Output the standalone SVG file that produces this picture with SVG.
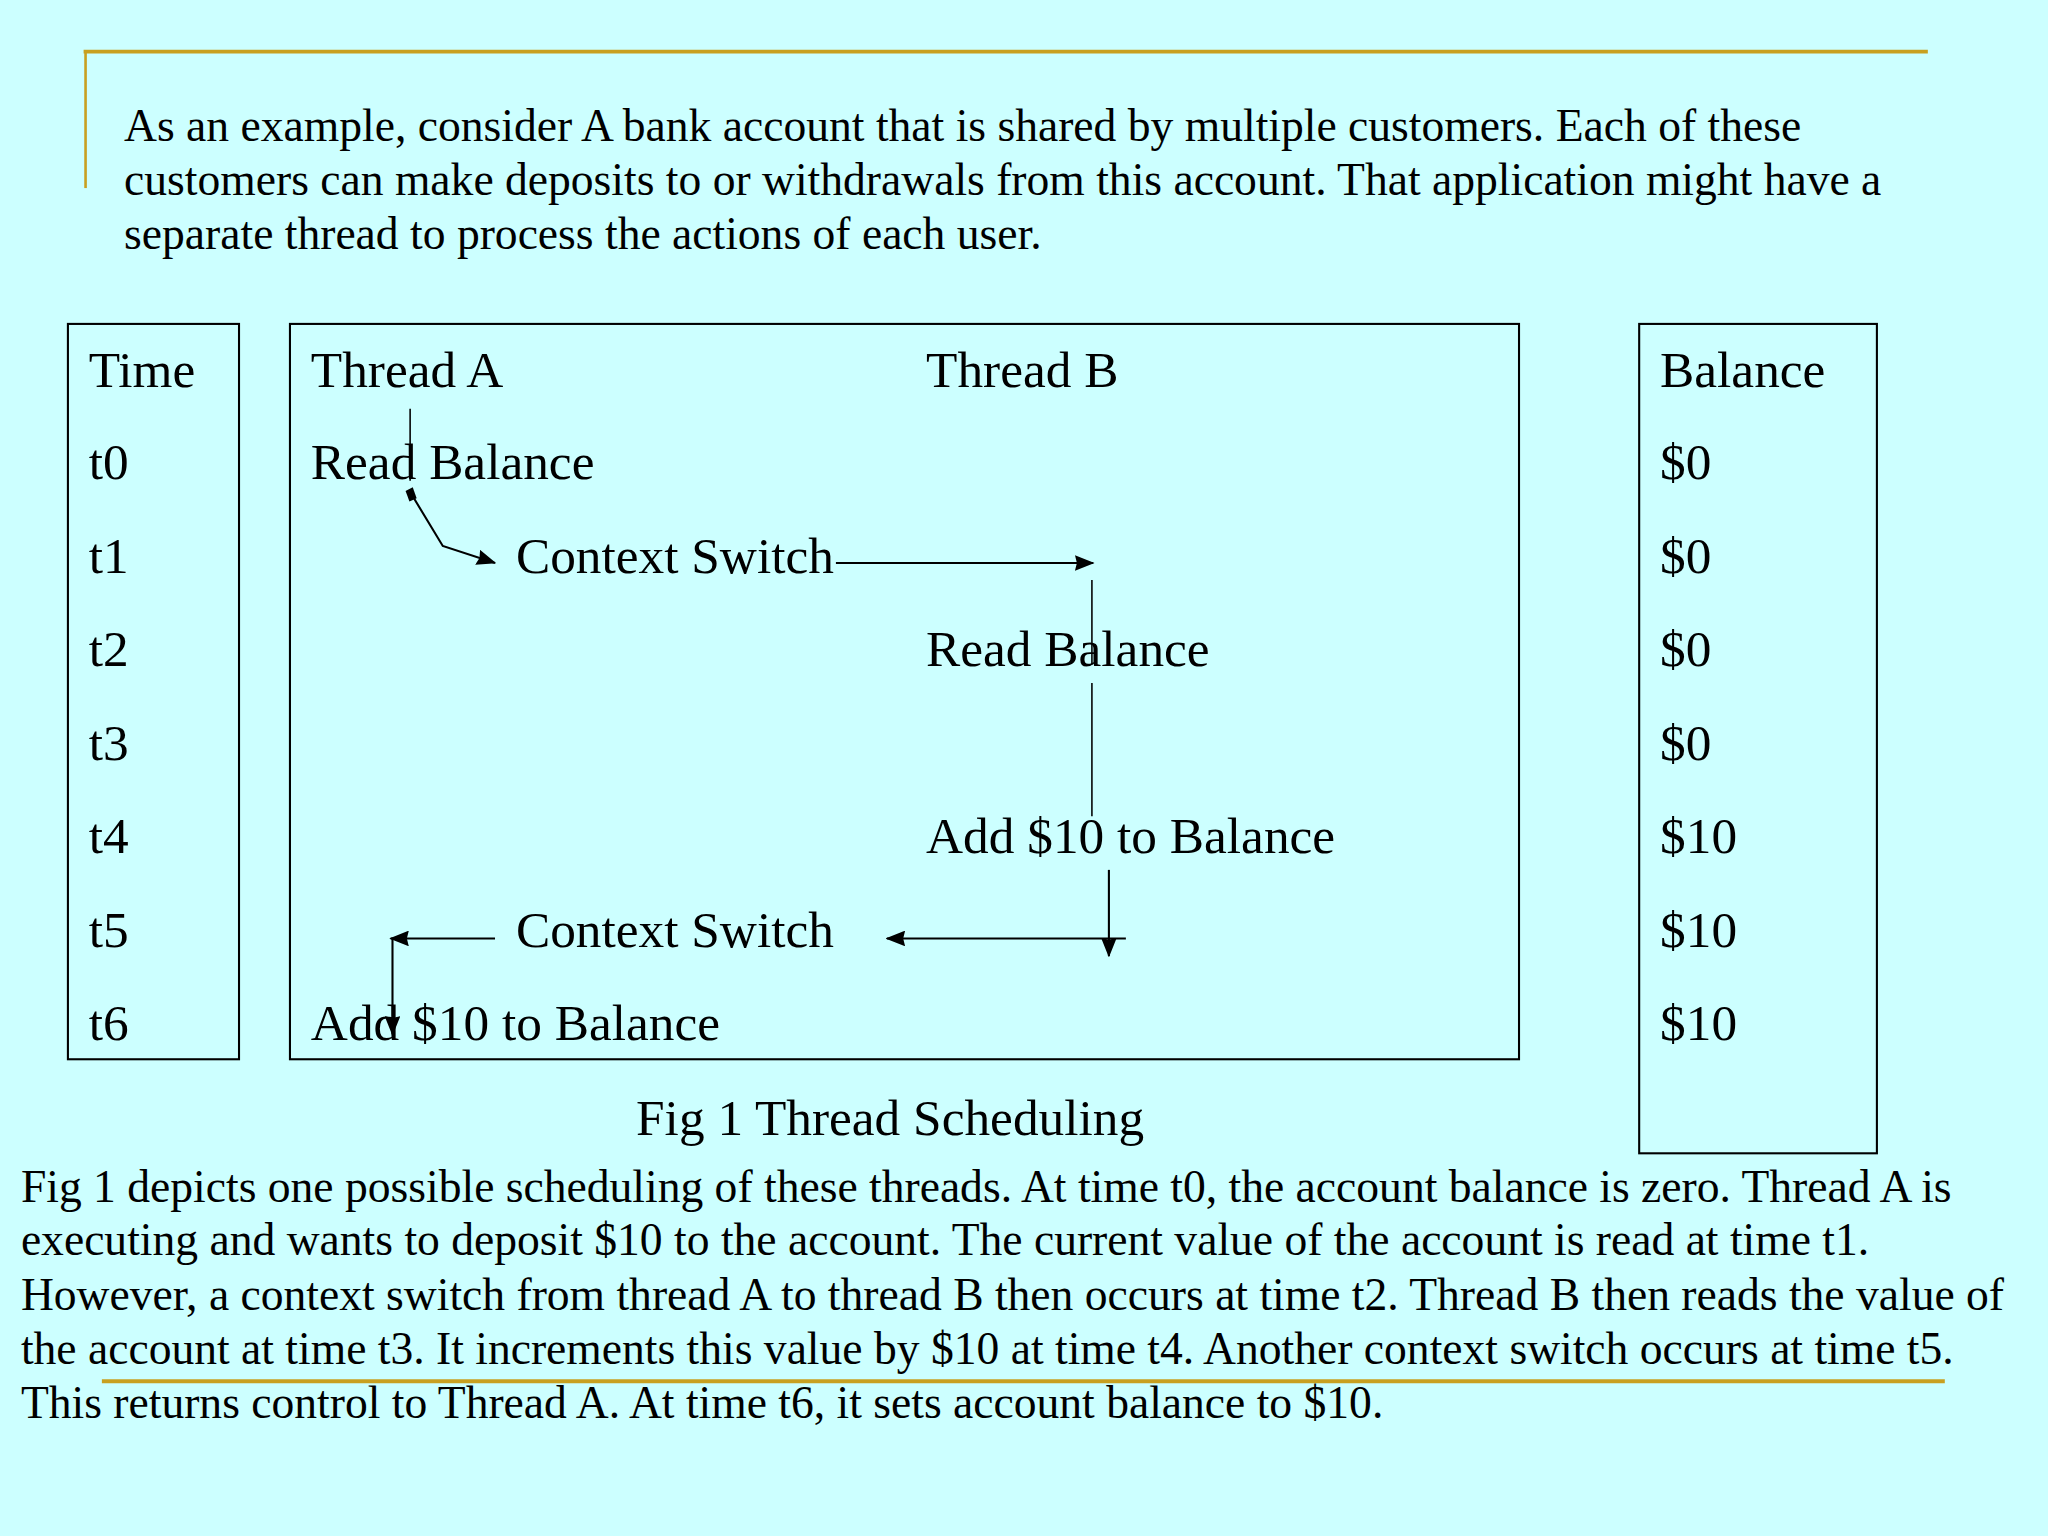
<svg xmlns="http://www.w3.org/2000/svg" width="2048" height="1536" viewBox="0 0 2048 1536">
  <style>
    .t { font-family: "Liberation Serif", "Times New Roman", serif; fill: #000; }
    .lbl { font-size: 39.3px; }
    .para { font-size: 34.9px; }
    .box { fill: none; stroke: #000; stroke-width: 1.6; }
    .gold { stroke: #C8A020; fill: none; }
    .ln { stroke: #000; fill: none; stroke-width: 1.2; }
    .arr { stroke: #000; fill: none; stroke-width: 1.6; marker-end: url(#ah); }
  </style>
  <defs>
    <marker id="ah" markerUnits="userSpaceOnUse" viewBox="0 0 15 12" refX="14" refY="6" markerWidth="15" markerHeight="12" orient="auto">
      <path d="M0,0 L15,6 L0,12 L1.5,6 Z" fill="#000"/>
    </marker>
  </defs>
  <rect x="0" y="0" width="2048" height="1536" fill="#CCFFFF"/>
  <g transform="scale(1.306122449)">
    <g id="decor">
      <line class="gold" x1="64" y1="39.5" x2="1476" y2="39.5" stroke-width="3"/>
      <line class="gold" x1="65.5" y1="39" x2="65.5" y2="144" stroke-width="2"/>
      <line class="gold" x1="78" y1="1057.5" x2="1489" y2="1057.5" stroke-width="3"/>
    </g>
    <g id="intro">
      <text class="t para" x="95" y="108">As an example, consider A bank account that is shared by multiple customers. Each of these</text>
      <text class="t para" x="95" y="149">customers can make deposits to or withdrawals from this account. That application might have a</text>
      <text class="t para" x="95" y="191">separate thread to process the actions of each user.</text>
    </g>
    <g id="time-column">
      <rect class="box" x="52" y="248" width="131" height="563"/>
      <text class="t lbl" x="68" y="296">Time</text>
      <text class="t lbl" x="68" y="367">t0</text>
      <text class="t lbl" x="68" y="439">t1</text>
      <text class="t lbl" x="68" y="510">t2</text>
      <text class="t lbl" x="68" y="582">t3</text>
      <text class="t lbl" x="68" y="653">t4</text>
      <text class="t lbl" x="68" y="725">t5</text>
      <text class="t lbl" x="68" y="796">t6</text>
    </g>
    <g id="threads">
      <rect class="box" x="222" y="248" width="941" height="563"/>
      <text class="t lbl" x="238" y="296">Thread A</text>
      <text class="t lbl" x="709" y="296">Thread B</text>
    </g>
    <g id="a-read"><text class="t lbl" x="238" y="367">Read Balance</text></g>
    <g id="switch-1"><text class="t lbl" x="395" y="439">Context Switch</text></g>
    <g id="b-read"><text class="t lbl" x="709" y="510">Read Balance</text></g>
    <g id="b-add"><text class="t lbl" x="709" y="653">Add $10 to Balance</text></g>
    <g id="switch-2"><text class="t lbl" x="395" y="725">Context Switch</text></g>
    <g id="a-add"><text class="t lbl" x="238" y="796">Add $10 to Balance</text></g>
    <g id="balance-column">
      <rect class="box" x="1255" y="248" width="182" height="635"/>
      <text class="t lbl" x="1271" y="296">Balance</text>
      <text class="t lbl" x="1271" y="367">$0</text>
      <text class="t lbl" x="1271" y="439">$0</text>
      <text class="t lbl" x="1271" y="510">$0</text>
      <text class="t lbl" x="1271" y="582">$0</text>
      <text class="t lbl" x="1271" y="653">$10</text>
      <text class="t lbl" x="1271" y="725">$10</text>
      <text class="t lbl" x="1271" y="796">$10</text>
    </g>
    <g id="connectors">
      <line class="ln" x1="314" y1="313" x2="314" y2="368"/>
      <polygon points="310.5,376 316,373 319,381.5 313.5,384" fill="#000"/>
      <polyline class="arr" points="316,380 339,418 379,431"/>
      <line class="arr" x1="640" y1="431" x2="837" y2="431"/>
      <line class="ln" x1="836" y1="444" x2="836" y2="509"/>
      <line class="ln" x1="836" y1="523" x2="836" y2="625"/>
      <line class="arr" x1="849" y1="666" x2="849" y2="732"/>
      <line class="arr" x1="862" y1="718.5" x2="679" y2="718.5"/>
      <line class="arr" x1="379" y1="718.5" x2="299" y2="718.5"/>
      <line class="arr" x1="300.5" y1="718" x2="300.5" y2="792"/>
    </g>
    <g id="caption"><text class="t lbl" x="487" y="869">Fig 1 Thread Scheduling</text></g>
    <g id="explanation">
      <text class="t para" x="16" y="920">Fig 1 depicts one possible scheduling of these threads. At time t0, the account balance is zero. Thread A is</text>
      <text class="t para" x="16" y="961">executing and wants to deposit $10 to the account. The current value of the account is read at time t1.</text>
      <text class="t para" x="16" y="1003">However, a context switch from thread A to thread B then occurs at time t2. Thread B then reads the value of</text>
      <text class="t para" x="16" y="1044">the account at time t3. It increments this value by $10 at time t4. Another context switch occurs at time t5.</text>
      <text class="t para" x="16" y="1086">This returns control to Thread A. At time t6, it sets account balance to $10.</text>
    </g>
  </g>
</svg>
